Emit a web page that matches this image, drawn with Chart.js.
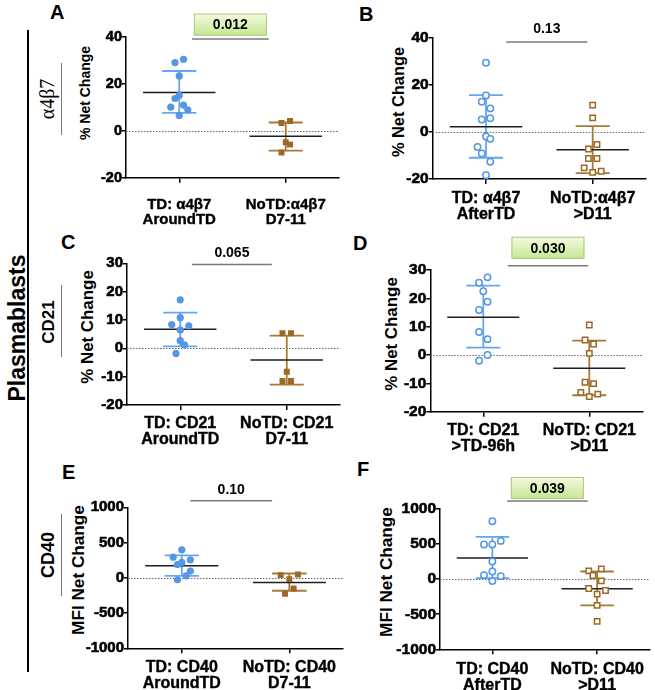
<!DOCTYPE html>
<html>
<head>
<meta charset="utf-8">
<script src="https://cdn.jsdelivr.net/npm/chart.js@4.4.1/dist/chart.umd.min.js"></script>
<style>
  body { margin: 0; background: #fff; width: 655px; height: 690px; position: relative; overflow: hidden;
         font-family: "Liberation Sans", Arial, sans-serif; }
  canvas { position: absolute; }
  .lbl { position: absolute; font-weight: bold; color: #000; white-space: nowrap; line-height: 1; }
  .rot { transform: translate(-50%, -50%) rotate(-90deg); }
  .vline { position: absolute; width: 1.5px; background: #000; }
  .vthin { position: absolute; width: 1px; background: #777; }
</style>
</head>
<body>

<div class="vline" style="left:27px; top:30px; height:642px"></div>
<div class="lbl rot" style="left:17px; top:328px; font-size:23px">Plasmablasts</div>

<div class="vthin" style="left:61px; top:63px; height:72px"></div>
<div class="lbl rot" style="left:47px; top:99px; font-size:20px; font-weight:normal; font-family:'Liberation Serif', serif">&alpha;4&beta;7</div>
<div class="vthin" style="left:61px; top:285px; height:72px"></div>
<div class="lbl rot" style="left:48px; top:322px; font-size:17px">CD21</div>
<div class="vthin" style="left:61px; top:514px; height:82px"></div>
<div class="lbl rot" style="left:48px; top:555px; font-size:18px">CD40</div>

<div class="lbl" style="left:50px; top:2px; font-size:20px">A</div>
<div class="lbl" style="left:359px; top:4px; font-size:20px">B</div>
<div class="lbl" style="left:61px; top:232px; font-size:20px">C</div>
<div class="lbl" style="left:353px; top:233px; font-size:20px">D</div>
<div class="lbl" style="left:62px; top:462px; font-size:20px">E</div>
<div class="lbl" style="left:357px; top:459px; font-size:20px">F</div>

<!-- títulos dos eixos y -->
<div class="lbl rot" style="left:85px; top:93px; font-size:14px">% Net Change</div>
<div class="lbl rot" style="left:398px; top:102px; font-size:16.4px">% Net Change</div>
<div class="lbl rot" style="left:88px; top:327px; font-size:16.9px">% Net Change</div>
<div class="lbl rot" style="left:392px; top:334px; font-size:16.9px">% Net Change</div>
<div class="lbl rot" style="left:79px; top:570px; font-size:17.2px">MFI Net Change</div>
<div class="lbl rot" style="left:387px; top:572px; font-size:17.2px">MFI Net Change</div>

<script>
// ---------------------------------------------
//  Dados
// ---------------------------------------------
const catsA = [['TD: α4β7', 'AroundTD'], ['NoTD:α4β7', 'D7-11']];
const catsB = [['TD: α4β7', 'AfterTD'], ['NoTD:α4β7', '>D11']];
const catsC = [['TD: CD21', 'AroundTD'], ['NoTD: CD21', 'D7-11']];
const catsD = [['TD: CD21', '>TD-96h'], ['NoTD: CD21', '>D11']];
const catsE = [['TD: CD40', 'AroundTD'], ['NoTD: CD40', 'D7-11']];
const catsF = [['TD: CD40', 'AfterTD'], ['NoTD: CD40', '>D11']];

const ticksPct30 = [-20, -10, 0, 10, 20, 30];
const ticksPct40 = [-20, 0, 20, 40];
const ticksMfi   = [-1000, -500, 0, 500, 1000];

// A
const tdA_x = [0.96, 1.04, 1.00, 0.96, 1.00, 0.92, 1.04, 1.08, 1.00];
const tdA_y = [29.0, 30.4, 23.3, 13.7, 15.0, 10.0, 10.9, 8.9, 6.5];
const noA_x = [1.96, 2.04, 2.00, 2.04, 1.96];
const noA_y = [3.3, 4.1, -4.9, -5.9, -9.3];
const meanA = [16.3, -2.4];
const sdHiA = [25.4, 3.5];
const sdLoA = [7.6, -8.5];

// B
const tdB_x = [1.00, 1.00, 0.96, 1.04, 0.96, 1.04, 1.00, 1.04, 0.92, 0.96, 1.04, 1.00];
const tdB_y = [29.2, 15.4, 12.7, 9.9, 5.2, 5.7, -2.0, -3.0, -6.4, -9.2, -12.7, -18.4];
const noB_x = [2.00, 2.00, 2.04, 1.96, 1.96, 2.04, 1.92, 2.00, 2.08];
const noB_y = [11.3, 5.9, -5.4, -7.3, -11.3, -11.3, -15.3, -17.2, -16.7];
const meanB = [2.1, -7.6];
const sdHiB = [15.5, 2.4];
const sdLoB = [-11.0, -17.5];

// C
const tdC_x = [1.00, 1.00, 0.92, 1.08, 1.00, 1.00, 1.04, 0.96];
const tdC_y = [17.1, 10.8, 8.4, 7.9, 6.5, 2.7, 1.2, -1.8];
const noC_x = [1.96, 2.04, 2.00, 1.96, 2.04];
const noC_y = [5.3, 5.3, -8.3, -11.5, -11.5];
const meanC = [6.7, -4.1];
const sdHiC = [12.6, 4.5];
const sdLoC = [0.7, -12.8];

// D
const tdD_x = [1.04, 0.96, 1.00, 1.04, 0.96, 0.96, 1.04, 1.04, 0.96];
const tdD_y = [27.4, 25.5, 22.5, 18.8, 15.9, 8.1, 5.6, 0.0, -2.0];
const noD_x = [2.00, 1.96, 2.04, 2.00, 1.96, 2.04, 1.92, 2.00, 2.08];
const noD_y = [10.6, 5.3, 3.9, 0.6, -9.6, -10.1, -13.2, -14.7, -13.8];
const meanD = [13.3, -4.7];
const sdHiD = [24.5, 5.1];
const sdLoD = [2.6, -14.2];

// E
const tdE_x = [1.00, 0.92, 0.96, 1.00, 1.08, 1.08, 1.04, 0.96];
const tdE_y = [397, 293, 189, 218, 255, 95, 28, -28];
const noE_x = [1.92, 2.08, 2.00, 2.04, 1.96];
const noE_y = [38, 47, -19, -151, -227];
const meanE = [170, -66];
const sdHiE = [317, 61];
const sdLoE = [28, -184];

// F
const tdF_x = [1.00, 0.92, 1.00, 1.08, 1.00, 1.00, 0.92, 1.08, 1.00];
const tdF_y = [825, 493, 493, 545, 251, 109, 57, 43, -28];
const noF_x = [1.92, 2.04, 1.96, 2.04, 1.92, 2.08, 2.00, 2.00, 2.00];
const noF_y = [118, 147, 52, -24, -133, -161, -213, -374, -602];
const meanF = [303, -137];
const sdHiF = [602, 109];
const sdLoF = [14, -374];

const pValores = ['0.012', '0.13', '0.065', '0.030', '0.10', '0.039'];

// ---------------------------------------------
//  Cores
// ---------------------------------------------
const AZUL       = '#5597e6';
const AZUL_LINHA = '#66a6ee';
const MARROM     = '#9a6925';
const MARROM_LIN = '#a87935';
const MEDIA      = '#1e1e1e';
const FAMILIA    = '"Liberation Sans", Arial, sans-serif';

// plugin: linha do zero pontilhada + barra do p-valor
const decoPlugin = {
  id: 'deco',
  beforeDatasetsDraw(chart) {
    const { ctx, chartArea: a, scales: { y } } = chart;
    const py = Math.round(y.getPixelForValue(0)) + 0.5;
    ctx.save();
    ctx.strokeStyle = '#666';
    ctx.lineWidth = 1;
    ctx.setLineDash([1.5, 1.5]);
    ctx.beginPath();
    ctx.moveTo(a.left, py);
    ctx.lineTo(a.right, py);
    ctx.stroke();
    ctx.restore();
  },
  afterDraw(chart, args, o) {
    const { ctx, scales: { x, y } } = chart;
    const x1 = x.getPixelForValue(o.from);
    const x2 = x.getPixelForValue(o.to);
    const py = y.getPixelForValue(o.y);
    ctx.save();
    ctx.strokeStyle = '#7a7a7a';
    ctx.lineWidth = 1.5;
    ctx.beginPath();
    ctx.moveTo(x1, py);
    ctx.lineTo(x2, py);
    ctx.stroke();

    const cx = (x1 + x2) / 2;
    const ty = py - o.gap;
    if (o.boxed) {
      const w = 73, h = 22;
      const g = ctx.createLinearGradient(0, ty - h / 2, 0, ty + h / 2);
      g.addColorStop(0, '#f4fbe0');
      g.addColorStop(1, '#c6e692');
      ctx.fillStyle = g;
      ctx.fillRect(cx - w / 2, ty - h / 2, w, h);
      ctx.strokeStyle = '#a9c97c';
      ctx.lineWidth = 1;
      ctx.strokeRect(cx - w / 2 + 0.5, ty - h / 2 + 0.5, w - 1, h - 1);
    }
    ctx.fillStyle = '#000';
    ctx.font = 'bold 14px ' + FAMILIA;
    ctx.textAlign = 'center';
    ctx.textBaseline = 'middle';
    ctx.fillText(o.text, cx, ty + 1);
    ctx.restore();
  }
};

function pontos(xs, ys) {
  return xs.map((x, i) => ({ x, y: ys[i] }));
}

// linha da média (duas categorias, com quebra entre elas)
function linhasMedia(mean) {
  const media = [];
  [1, 2].forEach((c, i) => {
    media.push({ x: c - 0.34, y: mean[i] }, { x: c + 0.34, y: mean[i] }, { x: c, y: null });
  });
  return media;
}

// barra de desvio padrão de um grupo
function sdGrupo(hi, lo, i) {
  const c = i + 1;
  return [{ x: c - 0.16, y: hi[i] }, { x: c + 0.16, y: hi[i] }, { x: c, y: null },
          { x: c, y: hi[i] }, { x: c, y: lo[i] }, { x: c, y: null },
          { x: c - 0.16, y: lo[i] }, { x: c + 0.16, y: lo[i] }];
}

function criarPainel(p) {
  const cv = document.createElement('canvas');
  cv.width = p.w;
  cv.height = p.h;
  cv.style.left = p.left + 'px';
  cv.style.top = p.top + 'px';
  document.body.appendChild(cv);

  const ticksY = p.ticks;

  new Chart(cv.getContext('2d'), {
    type: 'scatter',
    data: {
      datasets: [
        {
          data: pontos(p.tdX, p.tdY),
          pointStyle: 'circle',
          pointRadius: p.open ? 3.2 : 3.6,
          backgroundColor: p.open ? '#fff' : AZUL,
          borderColor: AZUL,
          borderWidth: p.open ? 1.5 : 0,
          order: 0
        },
        {
          data: pontos(p.noX, p.noY),
          pointStyle: 'rect',
          pointRadius: p.open ? 3.8 : 4.2,
          backgroundColor: p.open ? '#fff' : MARROM,
          borderColor: MARROM,
          borderWidth: p.open ? 1.5 : 0,
          order: 0
        },
        {
          data: sdGrupo(p.hi, p.lo, 0),
          showLine: true, pointRadius: 0, spanGaps: false,
          borderColor: AZUL_LINHA, borderWidth: 1.8, order: 2
        },
        {
          data: sdGrupo(p.hi, p.lo, 1),
          showLine: true, pointRadius: 0, spanGaps: false,
          borderColor: MARROM_LIN, borderWidth: 1.8, order: 2
        },
        {
          data: linhasMedia(p.mean),
          showLine: true, pointRadius: 0, spanGaps: false,
          borderColor: MEDIA, borderWidth: 1.5, order: 1
        }
      ]
    },
    options: {
      responsive: false,
      animation: false,
      events: [],
      layout: { padding: { top: p.chartTop - p.top, right: p.left + p.w - p.chartRight, left: 0, bottom: 0 } },
      plugins: {
        legend: { display: false },
        tooltip: { enabled: false },
        deco: p.pv
      },
      scales: {
        x: {
          type: 'linear', min: 0.5, max: 2.5,
          afterBuildTicks: s => { s.ticks = [{ value: 1 }, { value: 2 }]; },
          afterFit: s => { s.height = p.top + p.h - p.chartBottom; },
          grid: { drawOnChartArea: false, drawTicks: true, tickLength: 5, color: '#000', lineWidth: 1.5 },
          border: { display: true, color: '#000', width: 1.5 },
          ticks: {
            autoSkip: false, maxRotation: 0, minRotation: 0,
            padding: p.catPad, color: '#000',
            textStrokeColor: '#000', textStrokeWidth: 0.4,
            font: { family: FAMILIA, size: p.catSize, weight: 'bold', lineHeight: 1.0 },
            callback: v => (v === 1 ? p.cats[0] : p.cats[1])
          }
        },
        y: {
          min: ticksY[0], max: ticksY[ticksY.length - 1],
          afterBuildTicks: s => { s.ticks = ticksY.map(v => ({ value: v })); },
          afterFit: s => { s.width = p.chartLeft - p.left; },
          grid: { drawOnChartArea: false, drawTicks: true, tickLength: 4, color: '#000', lineWidth: 1.5 },
          border: { display: true, color: '#000', width: 1.5 },
          ticks: {
            padding: 0, color: '#000',
            textStrokeColor: '#000', textStrokeWidth: 0.6,
            font: { family: FAMILIA, size: p.tickSize, weight: 'bold', lineHeight: 1.2 },
            callback: v => String(v)
          }
        }
      }
    },
    plugins: [decoPlugin]
  });
}

// ---------------------------------------------
//  Painéis
// ---------------------------------------------
criarPainel({
  left: 77, top: 0, w: 273, h: 226,
  chartLeft: 126, chartRight: 339, chartTop: 36.7, chartBottom: 177.7,
  cats: catsA, ticks: ticksPct40, tickSize: 14.5,
  catSize: 15, catPad: 15, open: false,
  tdX: tdA_x, tdY: tdA_y, noX: noA_x, noY: noA_y, mean: meanA, hi: sdHiA, lo: sdLoA,
  pv: { text: pValores[0], from: 1.12, to: 1.84, y: 39, gap: 14.5, boxed: true }
});

criarPainel({
  left: 388, top: 0, w: 267, h: 226,
  chartLeft: 432.7, chartRight: 646, chartTop: 37.3, chartBottom: 179,
  cats: catsB, ticks: ticksPct40, tickSize: 15.5,
  catSize: 16, catPad: 7, open: true,
  tdX: tdB_x, tdY: tdB_y, noX: noB_x, noY: noB_y, mean: meanB, hi: sdHiB, lo: sdLoB,
  pv: { text: pValores[1], from: 1.19, to: 1.95, y: 38, gap: 14.3, boxed: false }
});

criarPainel({
  left: 78, top: 226, w: 272, h: 226,
  chartLeft: 127, chartRight: 340, chartTop: 263.3, chartBottom: 405,
  cats: catsC, ticks: ticksPct30, tickSize: 15,
  catSize: 16, catPad: 6, open: false,
  tdX: tdC_x, tdY: tdC_y, noX: noC_x, noY: noC_y, mean: meanC, hi: sdHiC, lo: sdLoC,
  pv: { text: pValores[2], from: 1.11, to: 1.86, y: 29.6, gap: 12.6, boxed: false }
});

criarPainel({
  left: 382, top: 226, w: 273, h: 226,
  chartLeft: 430.3, chartRight: 642.3, chartTop: 270, chartBottom: 411.7,
  cats: catsD, ticks: ticksPct30, tickSize: 15.5,
  catSize: 16, catPad: 6, open: true,
  tdX: tdD_x, tdY: tdD_y, noX: noD_x, noY: noD_y, mean: meanD, hi: sdHiD, lo: sdLoD,
  pv: { text: pValores[3], from: 1.23, to: 1.99, y: 31.5, gap: 18, boxed: true }
});

criarPainel({
  left: 69, top: 452, w: 281, h: 238,
  chartLeft: 128, chartRight: 343.1, chartTop: 507.3, chartBottom: 648.3,
  cats: catsE, ticks: ticksMfi, tickSize: 15,
  catSize: 16, catPad: 6, open: false,
  tdX: tdE_x, tdY: tdE_y, noX: noE_x, noY: noE_y, mean: meanE, hi: sdHiE, lo: sdLoE,
  pv: { text: pValores[4], from: 1.08, to: 1.84, y: 1094, gap: 11.7, boxed: false }
});

criarPainel({
  left: 376, top: 452, w: 279, h: 238,
  chartLeft: 440, chartRight: 654, chartTop: 509, chartBottom: 649.3,
  cats: catsF, ticks: ticksMfi, tickSize: 15.5,
  catSize: 16, catPad: 7, open: true,
  tdX: tdF_x, tdY: tdF_y, noX: noF_x, noY: noF_y, mean: meanF, hi: sdHiF, lo: sdLoF,
  pv: { text: pValores[5], from: 1.14, to: 1.91, y: 1114, gap: 13, boxed: true }
});
</script>
</body>
</html>
